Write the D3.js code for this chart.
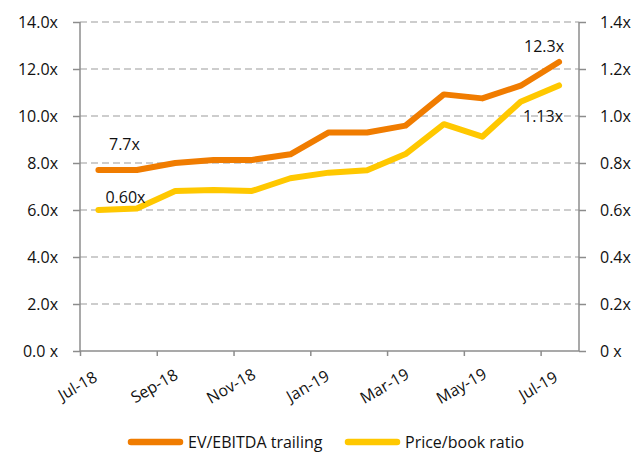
<!DOCTYPE html>
<html>
<head>
<meta charset="utf-8">
<script src="https://cdn.jsdelivr.net/npm/d3@7"></script>
<style>
  body { margin: 0; background: #fff; }
  svg { display: block; font-family: "Open Sans", "Noto Sans", sans-serif; }
  text { fill: #111; }
</style>
</head>
<body>
<div id="chart"></div>
<script>
// months shown on the x axis (one point per month)
var months = ["Jul-18", "Aug-18", "Sep-18", "Oct-18", "Nov-18", "Dec-18", "Jan-19",
              "Feb-19", "Mar-19", "Apr-19", "May-19", "Jun-19", "Jul-19"];

// left axis series
var evEbitda = [7.7, 7.7, 8.0, 8.13, 8.13, 8.37, 9.3, 9.3, 9.59, 10.92, 10.75, 11.29, 12.3];
// right axis series
var priceBook = [0.60, 0.606, 0.681, 0.685, 0.681, 0.735, 0.759, 0.769, 0.838, 0.965, 0.912, 1.061, 1.13];

var leftTicks = [0, 2, 4, 6, 8, 10, 12, 14];
var leftTickLabels = ["0.0 x", "2.0x", "4.0x", "6.0x", "8.0x", "10.0x", "12.0x", "14.0x"];
var rightTicks = [0, 0.2, 0.4, 0.6, 0.8, 1.0, 1.2, 1.4];
var rightTickLabels = ["0 x", "0.2x", "0.4x", "0.6x", "0.8x", "1.0x", "1.2x", "1.4x"];

var seriesNames = ["EV/EBITDA trailing", "Price/book ratio"];
var colors = ["#F07C00", "#FFC800"];

var svgWidth = 635;
var svgHeight = 453;
var margin = {top: 22, right: 56, bottom: 102, left: 80};
var width = svgWidth - margin.left - margin.right;
var height = svgHeight - margin.top - margin.bottom;
var fontSize = 16;

var svg = d3.select("#chart")
  .append("svg")
  .attr("width", svgWidth)
  .attr("height", svgHeight);

var chart = svg.append("g")
  .attr("transform", `translate(${margin.left}, ${margin.top})`);

// month index scale, each month gets one slot, points sit mid-slot
var x = d3.scaleLinear().domain([0, months.length]).range([0, width]);
var yLeft = d3.scaleLinear().domain([0, 14]).range([height, 0]);
var yRight = d3.scaleLinear().domain([0, 1.4]).range([height, 0]);

var axisColor = "#8c8c8c";

// gridlines
chart.append("g")
  .selectAll("line")
  .data(leftTicks.slice(1))
  .enter()
  .append("line")
  .attr("x1", 0)
  .attr("x2", width)
  .attr("y1", d => yLeft(d))
  .attr("y2", d => yLeft(d))
  .attr("stroke", "#bdbdbd")
  .attr("stroke-width", 1.3)
  .attr("stroke-dasharray", "7,4");

// left axis
var leftAxis = chart.append("g")
  .call(d3.axisLeft(yLeft)
    .tickValues(leftTicks)
    .tickSize(7)
    .tickPadding(15)
    .tickFormat((d, i) => leftTickLabels[i]));

// right axis
var rightAxis = chart.append("g")
  .attr("transform", `translate(${width}, 0)`)
  .call(d3.axisRight(yRight)
    .tickValues(rightTicks)
    .tickSize(7)
    .tickPadding(14)
    .tickFormat((d, i) => rightTickLabels[i]));

// bottom axis
var xTickIdx = d3.range(0, months.length, 2);
var bottomAxis = chart.append("g")
  .attr("transform", `translate(0, ${height})`)
  .call(d3.axisBottom(x)
    .tickValues(xTickIdx)
    .tickSize(5)
    .tickFormat(d => months[d]));

[leftAxis, rightAxis, bottomAxis].forEach(function(a) {
  a.select(".domain").attr("stroke", axisColor).attr("stroke-width", 1.5);
  a.selectAll(".tick line").attr("stroke", axisColor).attr("stroke-width", 1.5);
  a.selectAll("text").attr("font-size", fontSize).attr("fill", "#111")
    .attr("font-family", "\"Open Sans\", \"Noto Sans\", sans-serif");
});
// keep domain paths flat at the ends
leftAxis.select(".domain").attr("d", `M0,${height}V0`);
rightAxis.select(".domain").attr("d", `M0,${height}V0`);
bottomAxis.select(".domain").attr("d", `M0,0H${width}`);

bottomAxis.selectAll("text")
  .attr("y", 0)
  .attr("dy", "0.35em")
  .attr("text-anchor", "middle")
  .attr("transform", "translate(-3, 35) rotate(-30)");

// lines
var lineLeft = d3.line()
  .x((d, i) => x(i + 0.48))
  .y(d => yLeft(d));
var lineRight = d3.line()
  .x((d, i) => x(i + 0.48))
  .y(d => yRight(d));

chart.append("path")
  .attr("d", lineRight(priceBook))
  .attr("fill", "none")
  .attr("stroke", colors[1])
  .attr("stroke-width", 6)
  .attr("stroke-linecap", "round")
  .attr("stroke-linejoin", "round");

chart.append("path")
  .attr("d", lineLeft(evEbitda))
  .attr("fill", "none")
  .attr("stroke", colors[0])
  .attr("stroke-width", 6)
  .attr("stroke-linecap", "round")
  .attr("stroke-linejoin", "round");

// data labels at first and last points
var last = months.length - 1;
var labels = [
  {t: evEbitda[0].toFixed(1) + "x", x: x(0.48) + 26, y: yLeft(evEbitda[0]) - 20},
  {t: priceBook[0].toFixed(2) + "x", x: x(0.48) + 27, y: yRight(priceBook[0]) - 7},
  {t: evEbitda[last].toFixed(1) + "x", x: x(last + 0.48) - 15, y: yLeft(evEbitda[last]) - 10},
  {t: priceBook[last].toFixed(2) + "x", x: x(last + 0.48) - 16, y: yRight(priceBook[last]) + 37}
];
chart.append("g")
  .selectAll("text")
  .data(labels)
  .enter()
  .append("text")
  .attr("x", d => d.x)
  .attr("y", d => d.y)
  .attr("text-anchor", "middle")
  .attr("font-size", fontSize)
  .text(d => d.t);

// legend
var legend = svg.append("g").attr("transform", "translate(0, 442)");
var legendX = [128, 345];
seriesNames.forEach(function(name, i) {
  legend.append("line")
    .attr("x1", legendX[i] + 3)
    .attr("x2", legendX[i] + 52)
    .attr("y1", 0)
    .attr("y2", 0)
    .attr("stroke", colors[i])
    .attr("stroke-width", 6.5)
    .attr("stroke-linecap", "round");
  legend.append("text")
    .attr("x", legendX[i] + 60)
    .attr("y", 0)
    .attr("dy", "0.35em")
    .attr("font-size", fontSize)
    .text(name);
});
</script>
</body>
</html>
